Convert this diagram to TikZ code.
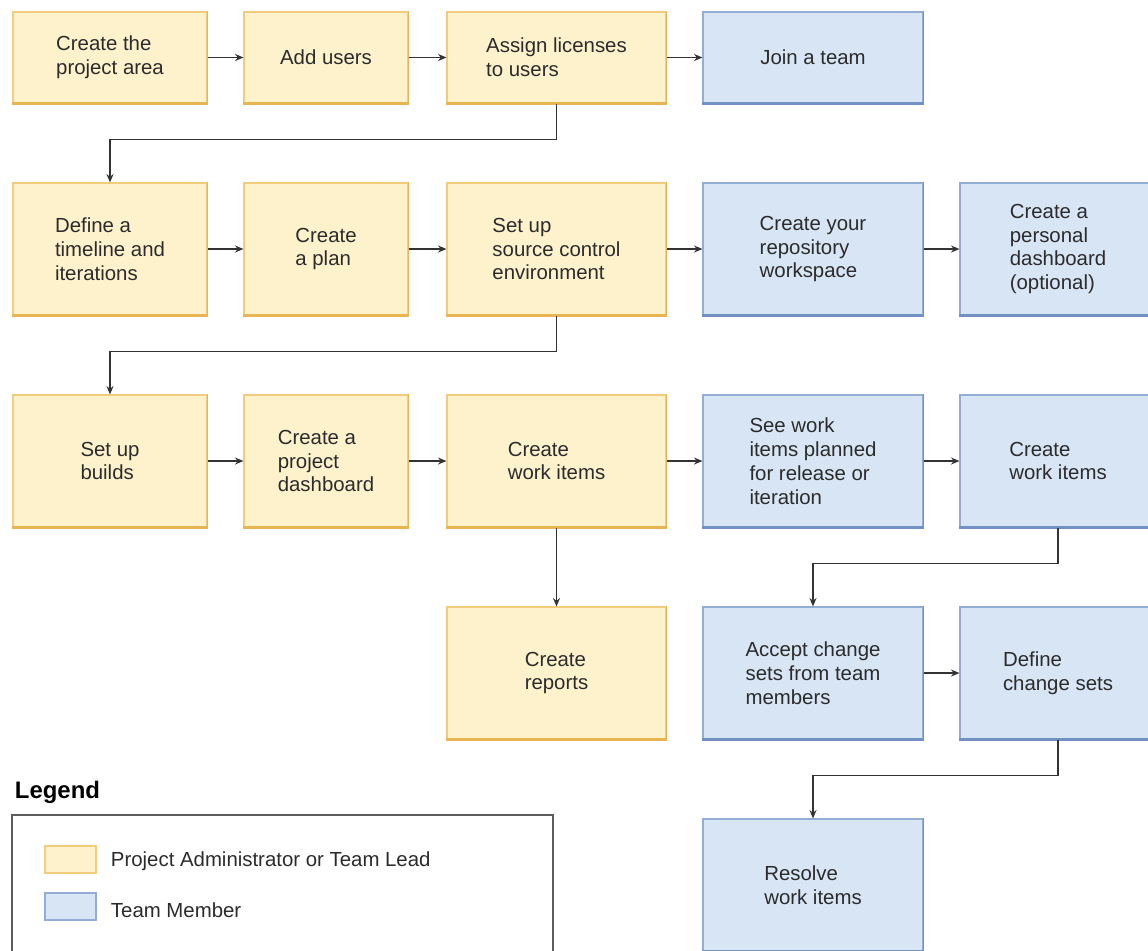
\documentclass[tikz,border=0pt]{standalone}
\usepackage{fontspec}
\setmainfont{Liberation Sans}
\usetikzlibrary{arrows.meta}
\definecolor{admfill}{HTML}{FEF2CD}
\definecolor{admline}{HTML}{F3CB7C}
\definecolor{admdark}{HTML}{E9B552}
\definecolor{memfill}{HTML}{D7E5F5}
\definecolor{memline}{HTML}{94ADD7}
\definecolor{memdark}{HTML}{7190C4}
\definecolor{txt}{HTML}{2B2B2B}
\definecolor{arrc}{HTML}{333333}
\begin{document}
\begin{tikzpicture}[x=0.025cm,y=-0.025cm,>={Stealth[length=6pt,width=5pt]},
  box/.style={draw,line width=0.8pt,align=left,inner sep=0pt,text=txt,font=\fontsize{14.5}{17}\selectfont},
  adm/.style={box,fill=admfill,draw=admline},
  mem/.style={box,fill=memfill,draw=memline},
  sz/.style 2 args={minimum width=#1*0.025cm,minimum height=#2*0.025cm},
  arr/.style={->,draw=arrc,line width=1pt}]
\useasboundingbox (0,0) rectangle (1148,950);
\fill[white] (0,0) rectangle (1148,950);
\def\ya{57.5} \def\yb{249} \def\yc{461} \def\yd{673} \def\ye{885}
% row 1
\node[adm,sz={194}{91}] (A1) at (110,\ya) {Create the\\project area};
\node[adm,sz={164}{91}] (A2) at (326,\ya) {Add users};
\node[adm,sz={219}{91}] (A3) at (556.5,\ya) {Assign licenses\\to users};
\node[mem,sz={220}{91}] (A4) at (813,\ya) {Join a team};
% row 2
\node[adm,sz={194}{132}] (B1) at (110,\yb) {Define a\\timeline and\\iterations};
\node[adm,sz={164}{132}] (B2) at (326,\yb) {Create\\a plan};
\node[adm,sz={219}{132}] (B3) at (556.5,\yb) {Set up\\source control\\environment};
\node[mem,sz={220}{132}] (B4) at (813,\yb) {Create your\\repository\\workspace};
\node[mem,sz={196}{132}] (B5) at (1058,\yb) {Create a\\personal\\dashboard\\(optional)};
% row 3
\node[adm,sz={194}{132}] (C1) at (110,\yc) {Set up\\builds};
\node[adm,sz={164}{132}] (C2) at (326,\yc) {Create a\\project\\dashboard};
\node[adm,sz={219}{132}] (C3) at (556.5,\yc) {Create\\work items};
\node[mem,sz={220}{132}] (C4) at (813,\yc) {See work\\items planned\\for release or\\iteration};
\node[mem,sz={196}{132}] (C5) at (1058,\yc) {Create\\work items};
% row 4 and 5
\node[adm,sz={219}{132}] (D3) at (556.5,\yd) {Create\\reports};
\node[mem,sz={220}{132}] (D4) at (813,\yd) {Accept change\\sets from team\\members};
\node[mem,sz={196}{132}] (D5) at (1058,\yd) {Define\\change sets};
\node[mem,sz={220}{132}] (E4) at (813,\ye) {Resolve\\work items};
\foreach \n in {A1,A2,A3,B1,B2,B3,C1,C2,C3,D3}{
  \draw[admdark,line width=1.3pt] (\n.north east)--(\n.south east);
  \draw[admdark,line width=2pt] (\n.south east)--(\n.south west);}
\foreach \n in {A4,B4,B5,C4,C5,D4,D5,E4}{
  \draw[memdark,line width=1.3pt] (\n.north east)--(\n.south east);
  \draw[memdark,line width=2pt] (\n.south east)--(\n.south west);}
% connectors
\foreach \a/\b in {A1/A2,A2/A3,A3/A4,B1/B2,B2/B3,B3/B4,B4/B5,C1/C2,C2/C3,C3/C4,C4/C5,D4/D5,C3/D3}
  \draw[arr] (\a)--(\b);
\foreach \a/\b in {A3/B1,B3/C1,C5/D4,D5/E4}
  \draw[arr] (\a.south)--++(0,36)-|(\b.north);
% legend
\node[anchor=west,font=\fontsize{17}{20}\selectfont\bfseries,text=black] (leg) at (10,792) {Legend};
\draw[draw=arrc!80,line width=0.9pt] (12,815) rectangle (553,965);
\node[box,fill=admfill,draw=admline,sz={51}{27}] (ka) at (70.5,859.5) {};
\node[box,fill=memfill,draw=memline,sz={51}{27}] (kb) at (70.5,906.5) {};
\node[anchor=west,text=txt,font=\fontsize{14.5}{17}\selectfont] (ta) at (106,861) {Project Administrator or Team Lead};
\node[anchor=west,text=txt,font=\fontsize{14.5}{17}\selectfont] (tb) at (106,910) {Team Member};
\end{tikzpicture}
\end{document}
